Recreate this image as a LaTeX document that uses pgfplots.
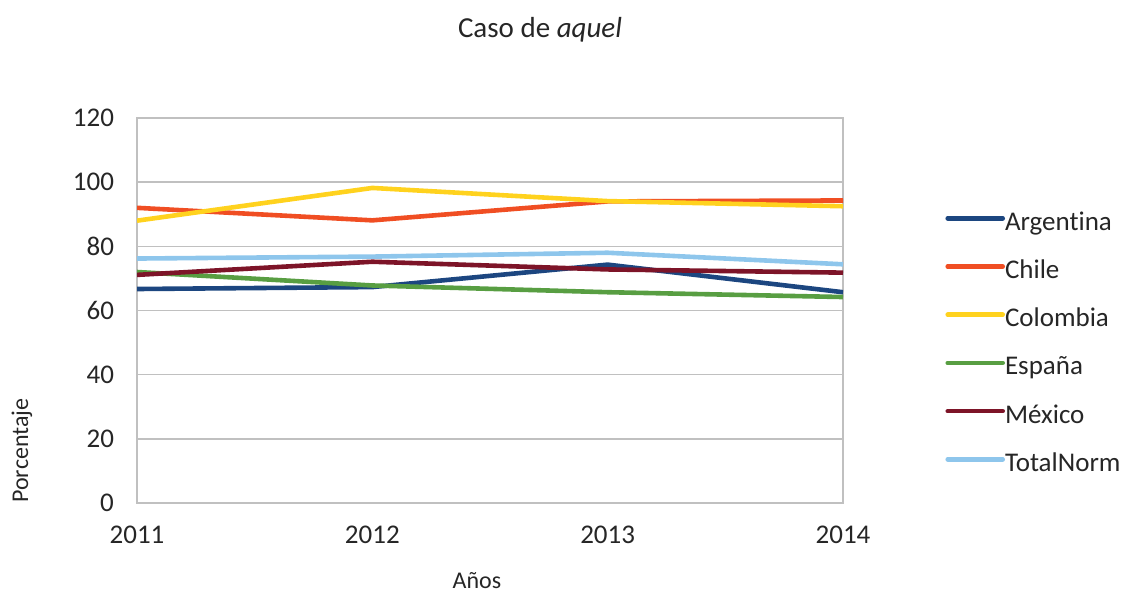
\documentclass[border=0pt]{standalone}
\usepackage{pgfplots}
\pgfplotsset{compat=1.18}
\usepackage{fontspec}
\setmainfont{Carlito}[Ligatures=NoCommon]
\definecolor{cArg}{HTML}{1C4680}
\definecolor{cChi}{HTML}{F04E23}
\definecolor{cCol}{HTML}{FFD21E}
\definecolor{cEsp}{HTML}{589E42}
\definecolor{cMex}{HTML}{7D1428}
\definecolor{cTot}{HTML}{8EC6EC}
\definecolor{gridc}{HTML}{C0C0C0}
\begin{document}
\begin{tikzpicture}
\useasboundingbox (0pt,0pt) rectangle (560.5pt,298pt);
\begin{axis}[
  at={(68.5pt,46.5pt)}, anchor=south west,
  scale only axis, width=353pt, height=192.5pt,
  xmin=2011, xmax=2014, ymin=0, ymax=120,
  xtick={2011,2012,2013,2014}, ytick={0,20,...,120},
  /pgf/number format/1000 sep={},
  /pgf/number format/assume math mode=true,
  major tick length=0pt,
  tick label style={font=\fontsize{13.5}{16}\selectfont, text=black!85},
  xticklabel style={yshift=-8pt},
  yticklabel style={xshift=-8pt},
  axis line style={gridc, line width=1pt},
  ymajorgrids, grid style={gridc, line width=0.75pt},
  legend style={at={(1.1445,0.756)}, anchor=north west, draw=none, fill=none,
    inner sep=0pt, row sep=12.1pt,
    nodes={inner sep=0pt, text height=9pt, text depth=3pt, font=\fontsize{13.5}{16}\selectfont, text=black!85, xshift=0pt}},
  legend cell align=left,
  legend image code/.code={\draw[#1, line cap=round] (0pt,0.3em) -- (27.5pt,0.3em);},
  every axis plot/.append style={line width=2.3pt},
]
\addplot[cArg] coordinates {(2011,66.7) (2012,67.3) (2013,74.3) (2014,65.7)};
\addlegendentry{Argentina}
\addplot[cChi] coordinates {(2011,92.0) (2012,88.1) (2013,94.0) (2014,94.3)};
\addlegendentry{Chile}
\addplot[cCol] coordinates {(2011,88.0) (2012,98.2) (2013,94.1) (2014,92.5)};
\addlegendentry{Colombia}
\addplot[cEsp] coordinates {(2011,72.0) (2012,67.8) (2013,65.7) (2014,64.2)};
\addlegendentry{España}
\addplot[cMex] coordinates {(2011,71.1) (2012,75.2) (2013,72.8) (2014,71.8)};
\addlegendentry{México}
\addplot[cTot] coordinates {(2011,76.2) (2012,76.8) (2013,78.0) (2014,74.4)};
\addlegendentry{TotalNorm}
\end{axis}
\node[font=\fontsize{14.5}{17}\selectfont, text=black!85] at (270pt,283pt) {Caso de \textit{aquel}};
\node[rotate=90, anchor=west, inner sep=0pt, font=\fontsize{12}{14}\selectfont, text=black!85] at (11pt,46.5pt) {Porcentaje};
\node[anchor=base, inner sep=0pt, font=\fontsize{12}{14}\selectfont, text=black!85] at (238.5pt,4pt) {Años};
\end{tikzpicture}
\end{document}
